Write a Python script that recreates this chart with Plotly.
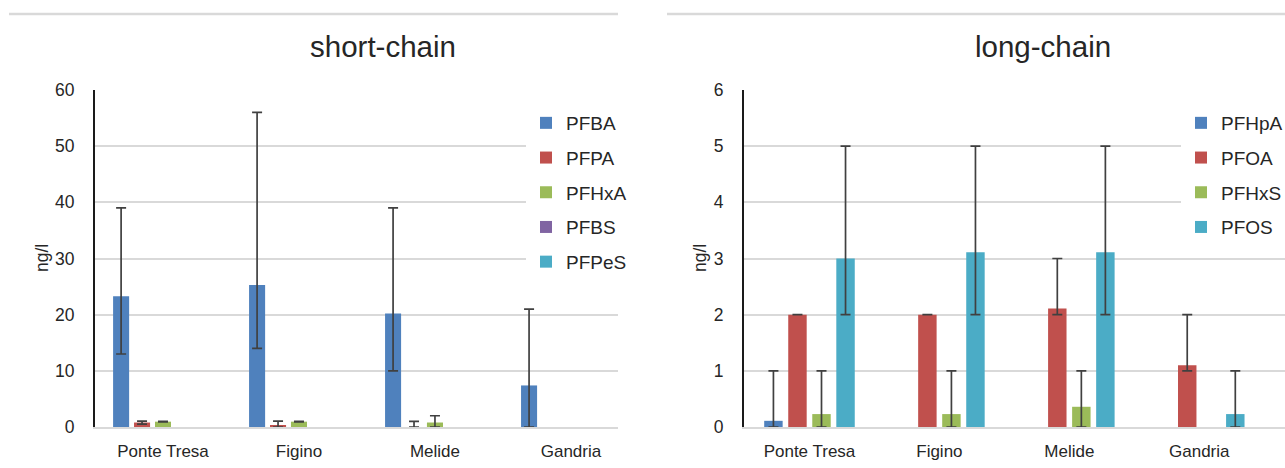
import plotly.graph_objects as go
from plotly.subplots import make_subplots

# Sampling sites (shared by both panels)
sites = ["Ponte Tresa", "Figino", "Melide", "Gandria"]

# Short-chain compounds: mean concentration with min/max range (ng/l);
# None = no bar drawn for that site
short_names = ["PFBA", "PFPA", "PFHxA", "PFBS", "PFPeS"]
short_mean = {
    "PFBA": [23.3, 25.3, 20.2, 7.4],
    "PFPA": [0.8, 0.3, 0.0, None],
    "PFHxA": [0.95, 0.95, 0.8, None],
    "PFBS": [0.0, 0.0, 0.0, 0.0],
    "PFPeS": [0.0, 0.0, 0.0, 0.0],
}
short_min = {
    "PFBA": [13, 14, 10, 0],
    "PFPA": [0.5, 0, 0, None],
    "PFHxA": [0.9, 0.9, 0, None],
    "PFBS": [None, None, None, None],
    "PFPeS": [None, None, None, None],
}
short_max = {
    "PFBA": [39, 56, 39, 21],
    "PFPA": [1.05, 1.05, 1.0, None],
    "PFHxA": [1.0, 1.0, 2.0, None],
    "PFBS": [None, None, None, None],
    "PFPeS": [None, None, None, None],
}

# Long-chain compounds: mean concentration with min/max range (ng/l)
long_names = ["PFHpA", "PFOA", "PFHxS", "PFOS"]
long_mean = {
    "PFHpA": [0.11, None, None, None],
    "PFOA": [2.0, 2.0, 2.11, 1.1],
    "PFHxS": [0.23, 0.23, 0.36, None],
    "PFOS": [3.0, 3.11, 3.11, 0.23],
}
long_min = {
    "PFHpA": [0, None, None, None],
    "PFOA": [2, 2, 2, 1],
    "PFHxS": [0, 0, 0, None],
    "PFOS": [2, 2, 2, 0],
}
long_max = {
    "PFHpA": [1, None, None, None],
    "PFOA": [2, 2, 3, 2],
    "PFHxS": [1, 1, 1, None],
    "PFOS": [5, 5, 5, 1],
}

short_ticks = [0, 10, 20, 30, 40, 50, 60]
long_ticks = [0, 1, 2, 3, 4, 5, 6]

colors = {
    "PFBA": "#4F81BD", "PFPA": "#C0504D", "PFHxA": "#9BBB59",
    "PFBS": "#8064A2", "PFPeS": "#4BACC6",
    "PFHpA": "#4F81BD", "PFOA": "#C0504D", "PFHxS": "#9BBB59", "PFOS": "#4BACC6",
}

W, H = 1285, 468
FONT = "Liberation Sans, Arial, sans-serif"
TXT = "#262626"
GRID = "#d9d9d9"


def px_x(p):
    return p / W


def px_y(p):
    return 1 - p / H


def err_arrays(mean, lo, hi):
    plus, minus = [], []
    for m, a, b in zip(mean, lo, hi):
        if m is None or a is None or b is None:
            plus.append(0)
            minus.append(0)
        else:
            plus.append(b - m)
            minus.append(m - a)
    return plus, minus


fig = make_subplots(rows=1, cols=2)

# bar geometry in category units
panels = [
    (short_names, short_mean, short_min, short_max, 1, 0.118, 0.154, "legend"),
    (long_names, long_mean, long_min, long_max, 2, 0.142, 0.185, "legend2"),
]
for names, mean, lo, hi, col, bw, step, leg in panels:
    n = len(names)
    for i, name in enumerate(names):
        center = (i - (n - 1) / 2) * step
        plus, minus = err_arrays(mean[name], lo[name], hi[name])
        has_err = any(v is not None for v in lo[name])
        fig.add_trace(
            go.Bar(
                x=sites,
                y=mean[name],
                name=name,
                legend=leg,
                legendgroup=name,
                width=bw,
                offset=center - bw / 2,
                marker=dict(color=colors[name], line=dict(width=0)),
                error_y=dict(
                    type="data", symmetric=False, array=plus, arrayminus=minus,
                    color="#404040", thickness=1.7, width=5, visible=has_err,
                ),
            ),
            row=1, col=col,
        )

y_lo, y_hi = 427, 90
ydom = [px_y(y_lo), px_y(y_hi)]
fig.update_layout(
    width=W, height=H,
    margin=dict(l=0, r=0, t=0, b=0, autoexpand=False),
    paper_bgcolor="white", plot_bgcolor="white",
    barmode="group",
    font=dict(family=FONT, color=TXT, size=17),
    xaxis=dict(domain=[px_x(95), px_x(618)], range=[-0.5, 3.346]),
    xaxis2=dict(domain=[px_x(744), 1.0], range=[-0.504, 3.66]),
    yaxis=dict(domain=ydom, range=[0, 60], tickvals=short_ticks),
    yaxis2=dict(domain=ydom, range=[0, 6], tickvals=long_ticks),
    legend=dict(
        x=px_x(526), y=px_y(104), xanchor="left", yanchor="top",
        bgcolor="white", font=dict(size=19, color=TXT),
        tracegroupgap=7, itemwidth=30,
    ),
    legend2=dict(
        x=px_x(1181), y=px_y(104), xanchor="left", yanchor="top",
        bgcolor="white", font=dict(size=19, color=TXT),
        tracegroupgap=7, itemwidth=30,
    ),
    showlegend=True,
)

for ax in ["xaxis", "xaxis2"]:
    fig.layout[ax].update(
        type="category", showgrid=False, showline=True, linecolor=GRID,
        linewidth=2, ticks="", tickfont=dict(size=17, color=TXT),
        ticklabelstandoff=8, fixedrange=True, automargin=False,
    )
for ax in ["yaxis", "yaxis2"]:
    fig.layout[ax].update(
        showgrid=True, gridcolor=GRID, gridwidth=2, zeroline=False,
        showline=True, linecolor="#1a1a1a", linewidth=2, ticks="",
        tickfont=dict(size=17.5, color=TXT), ticklabelstandoff=15,
        automargin=False,
    )

annotations = [
    dict(text="short-chain", x=px_x(383), y=px_y(47), font=dict(size=29.5)),
    dict(text="long-chain", x=px_x(1043), y=px_y(47), font=dict(size=29.5)),
    dict(text="ng/l", x=px_x(42), y=px_y(258), textangle=-90, font=dict(size=17.5)),
    dict(text="ng/l", x=px_x(700), y=px_y(258), textangle=-90, font=dict(size=17.5)),
]
for a in annotations:
    fig.add_annotation(
        xref="paper", yref="paper", showarrow=False,
        xanchor="center", yanchor="middle", **a,
    )

# thin separator lines above each panel
for x0, x1 in [(9, 618), (667, 1285)]:
    fig.add_shape(
        type="line", xref="paper", yref="paper",
        x0=px_x(x0), x1=px_x(x1), y0=px_y(14), y1=px_y(14),
        line=dict(color=GRID, width=2.5),
    )

fig.write_html("out.html")
